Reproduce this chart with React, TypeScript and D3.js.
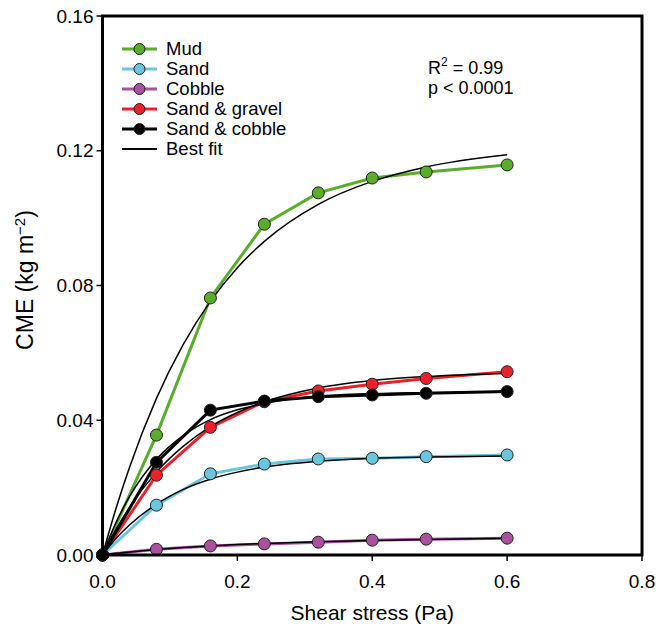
import React from "react";
import * as d3 from "d3";

// shear stress steps (Pa)
const stress = [0, 0.08, 0.16, 0.24, 0.32, 0.4, 0.48, 0.6];

const mud = [0, 0.0356, 0.0763, 0.0982, 0.1075, 0.1119, 0.1137, 0.1158];
const sand = [0, 0.0148, 0.0241, 0.027, 0.0285, 0.0287, 0.0292, 0.0297];
const cobble = [0, 0.0017, 0.0027, 0.0033, 0.0038, 0.0044, 0.0047, 0.005];
const sandGravel = [0, 0.0237, 0.0379, 0.0455, 0.0487, 0.0507, 0.0524, 0.0544];
const sandCobble = [0, 0.0275, 0.043, 0.0457, 0.047, 0.0475, 0.048, 0.0485];

// best fit curves, read at these x positions
const fitX = [0, 0.02, 0.04, 0.08, 0.12, 0.16, 0.2, 0.24, 0.32, 0.4, 0.48, 0.6];
const mudFit = [0, 0.0138, 0.026, 0.0465, 0.0626, 0.0753, 0.0853, 0.0931, 0.1041, 0.1109, 0.1152, 0.1188];
const sandFit = [0, 0.0049, 0.0089, 0.0151, 0.0195, 0.0225, 0.0246, 0.0261, 0.0278, 0.0287, 0.0291, 0.0294];
const cobbleFit = [0, 0.0005, 0.0009, 0.0016, 0.0022, 0.0027, 0.0031, 0.0034, 0.0039, 0.0043, 0.0046, 0.005];
const sandGravelFit = [0, 0.0076, 0.0141, 0.0246, 0.0323, 0.0381, 0.0423, 0.0455, 0.0496, 0.0518, 0.053, 0.0539];
const sandCobbleFit = [0, 0.0096, 0.0173, 0.0284, 0.0355, 0.0402, 0.0431, 0.045, 0.0471, 0.0479, 0.0482, 0.0484];

const xTicks = [0, 0.2, 0.4, 0.6, 0.8];
const yTicks = [0, 0.04, 0.08, 0.12, 0.16];

const series = [
  { name: "Mud", values: mud, fit: mudFit, color: "#5aac2b" },
  { name: "Sand", values: sand, fit: sandFit, color: "#6ac6dc" },
  { name: "Cobble", values: cobble, fit: cobbleFit, color: "#a9519e" },
  { name: "Sand & gravel", values: sandGravel, fit: sandGravelFit, color: "#e8212b" },
  { name: "Sand & cobble", values: sandCobble, fit: sandCobbleFit, color: "#000000" },
];

const font = "'Liberation Sans', Arial, Helvetica, sans-serif";

export default function App() {
  const w = 656;
  const h = 629;
  const x = d3.scaleLinear().domain([0, 0.8]).range([102.5, 642]);
  const y = d3.scaleLinear().domain([0, 0.16]).range([555, 16]);

  const line = d3
    .line<[number, number]>()
    .x((d) => x(d[0]))
    .y((d) => y(d[1]));
  const fitLine = d3
    .line<[number, number]>()
    .x((d) => x(d[0]))
    .y((d) => y(d[1]))
    .curve(d3.curveMonotoneX);

  const pairs = (vals: number[], xs: number[]) =>
    vals.map((v, i) => [xs[i], v] as [number, number]);

  return (
    <svg
      width={w}
      height={h}
      style={{ position: "absolute", left: 0, top: 0, background: "#fff" }}
      fontFamily={font}
    >
      {/* data lines */}
      {series.map((s) => (
        <path
          key={"l" + s.name}
          d={line(pairs(s.values, stress)) || ""}
          fill="none"
          stroke={s.color}
          strokeWidth={3}
        />
      ))}
      {/* fits */}
      {series.map((s) => (
        <path
          key={"f" + s.name}
          d={fitLine(pairs(s.fit, fitX)) || ""}
          fill="none"
          stroke="#000"
          strokeWidth={1.5}
        />
      ))}
      {/* points */}
      {series.map((s) =>
        s.values.map((v, i) => (
          <circle
            key={s.name + i}
            cx={x(stress[i])}
            cy={y(v)}
            r={6}
            fill={s.color}
            stroke="#222"
            strokeWidth={1}
          />
        ))
      )}

      {/* frame */}
      <rect
        x={x(0)}
        y={y(0.16)}
        width={x(0.8) - x(0)}
        height={y(0) - y(0.16)}
        fill="none"
        stroke="#000"
        strokeWidth={3}
      />
      {yTicks.map((t) => (
        <g key={"y" + t}>
          <line x1={x(0) - 6} x2={x(0)} y1={y(t)} y2={y(t)} stroke="#000" strokeWidth={1.5} />
          <text x={x(0) - 9} y={y(t)} dy="0.35em" textAnchor="end" fontSize={19}>
            {t.toFixed(2)}
          </text>
        </g>
      ))}
      {xTicks.map((t) => (
        <g key={"x" + t}>
          <line x1={x(t)} x2={x(t)} y1={y(0)} y2={y(0) + 6} stroke="#000" strokeWidth={1.5} />
          <text x={x(t)} y={588} textAnchor="middle" fontSize={19}>
            {t.toFixed(1)}
          </text>
        </g>
      ))}

      <text x={(x(0) + x(0.8)) / 2} y={620} textAnchor="middle" fontSize={21}>
        Shear stress (Pa)
      </text>
      <text transform="translate(33,280) rotate(-90)" textAnchor="middle" fontSize={23}>
        CME (kg m
        <tspan dy={-8} fontSize={15}>−2</tspan>
        <tspan dy={8}>)</tspan>
      </text>

      {/* legend */}
      {series.map((s, i) => (
        <g key={"lg" + s.name} transform={`translate(0,${49 + i * 20})`}>
          <line x1={122} x2={157} y1={0} y2={0} stroke={s.color} strokeWidth={3} />
          <circle cx={139.5} cy={0} r={5.5} fill={s.color} stroke="#222" strokeWidth={1} />
          <text x={166} y={0} dy="0.35em" fontSize={18.5}>
            {s.name}
          </text>
        </g>
      ))}
      <g transform={`translate(0,${49 + 5 * 20})`}>
        <line x1={122} x2={157} y1={0} y2={0} stroke="#000" strokeWidth={1.8} />
        <text x={166} y={0} dy="0.35em" fontSize={18.5}>
          Best fit
        </text>
      </g>

      <text x={428} y={74} fontSize={18}>
        R<tspan dy={-8} fontSize={12}>2</tspan>
        <tspan dy={8}> = 0.99</tspan>
      </text>
      <text x={428} y={94} fontSize={18}>
        p &lt; 0.0001
      </text>
    </svg>
  );
}
